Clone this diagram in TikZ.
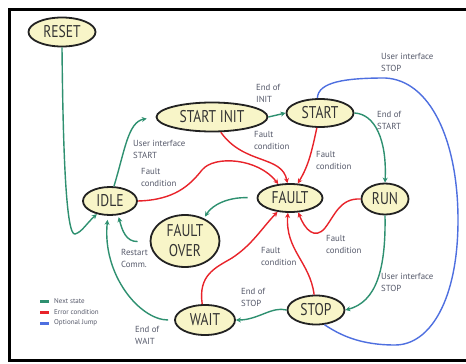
\documentclass[tikz,border=0pt]{standalone}
\usepackage{fontspec}
\usetikzlibrary{shapes.geometric,arrows.meta}
\newfontfamily\statefont[FakeStretch=0.8]{PT Sans}
\newfontfamily\lblfont{PT Sans}
\definecolor{gr}{HTML}{2E9070}
\definecolor{rd}{HTML}{E8232A}
\definecolor{bl}{HTML}{4E6FE0}
\definecolor{fillc}{HTML}{F8F5C8}
\definecolor{tg}{HTML}{55596A}
\definecolor{edgec}{HTML}{222222}
\begin{document}
\begin{tikzpicture}[x=1pt,y=-1pt,
 state/.style={ellipse,draw=edgec,line width=1.8pt,fill=fillc,inner sep=0pt,font=\statefont\fontsize{17}{20}\selectfont,text=black!80},
 lbl/.style={anchor=north west,inner sep=0pt,align=left,text=tg,font=\lblfont\fontsize{8.8}{12}\selectfont},
 leg/.style={anchor=west,inner sep=0pt,text=tg,font=\lblfont\fontsize{7}{8}\selectfont},
 nxt/.style={draw=gr,line width=1.4pt,-{Stealth[length=5pt,width=5pt]}},
 err/.style={draw=rd,line width=1.4pt,-{Stealth[length=5pt,width=5pt]}},
 opt/.style={draw=bl,line width=1.4pt}]
\useasboundingbox (0,0) rectangle (466,364);
\fill[white] (0,0) rectangle (466,364);
\draw[line width=3pt,black] (475,9) -- (9.5,9) -- (9.5,360) -- (475,360);

% states
\node[state,minimum width=67pt,minimum height=29pt] (RESET) at (62,32) {RESET};
\node[state,minimum width=111pt,minimum height=29pt] (SI) at (212,117) {START INIT};
\node[state,minimum width=67pt,minimum height=28pt] (START) at (320,113) {START};
\node[state,minimum width=54pt,minimum height=28pt] (IDLE) at (110,201) {IDLE};
\node[state,minimum width=65pt,minimum height=28pt] (FAULT) at (290,198) {FAULT};
\node[state,minimum width=47pt,minimum height=31pt] (RUN) at (385,199) {RUN};
\node[state,minimum width=69pt,minimum height=52pt,align=center] (FO) at (185,241) {FAULT\\OVER};
\node[state,minimum width=60pt,minimum height=30pt] (WAIT) at (205,320) {WAIT};
\node[state,minimum width=57pt,minimum height=29pt] (STOP) at (316,310) {STOP};

% green: next state
\draw[nxt] (RESET.south) .. controls (63,150) and (66,236) .. (75,234) .. controls (82,232) and (86,224) .. (IDLE.225);
\draw[nxt,shorten >=9pt] (IDLE.75) .. controls (125,150) and (128,122) .. (SI.west);
\draw[nxt] (SI.east) -- (START.west);
\draw[nxt] (START.east) .. controls (375,114) and (387,140) .. (RUN.north);
\draw[nxt] (RUN.south) .. controls (386,270) and (376,302) .. (STOP.east);
\draw[nxt] (STOP.west) .. controls (272,306) and (258,320) .. (WAIT.east);
\draw[nxt,shorten <=6pt,shorten >=4pt] (WAIT.west) .. controls (140,320) and (102,275) .. (IDLE.262);
\draw[nxt,shorten <=12pt,shorten >=2pt] (FO.west) .. controls (126,242) and (122,230) .. (IDLE.300);
\draw[nxt,shorten <=9pt,shorten >=2pt] (FAULT.west) .. controls (228,197) and (212,205) .. (FO.50);

% red: error condition
\draw[err] (SI.300) .. controls (244,165) and (282,155) .. (FAULT.100);
\draw[err] (START.258) .. controls (312,150) and (309,165) .. (FAULT.62);
\draw[err] (IDLE.east) .. controls (175,200) and (190,185) .. (202,170) .. controls (214,155) and (258,158) .. (FAULT.130);
\draw[err] (RUN.west) .. controls (340,198) and (335,215) .. (325,228) .. controls (315,240) and (305,230) .. (FAULT.300);
\draw[err] (STOP.97) .. controls (310,262) and (285,250) .. (FAULT.262);
\draw[err] (WAIT.100) .. controls (198,275) and (215,268) .. (232,258) .. controls (252,245) and (262,228) .. (FAULT.228);

% blue: optional jump
\draw[opt] (START.100) .. controls (318,82) and (345,78) .. (385,78) .. controls (430,80) and (458,140) .. (458,220) .. controls (458,300) and (430,345) .. (395,345) .. controls (360,345) and (340,335) .. (STOP.300);

% labels
\node[lbl] (l1) at (256,84) {End of\\INIT};
\node[lbl] (l2) at (381,53) {User interface\\STOP};
\node[lbl] (l3) at (377,111) {End of\\START};
\node[lbl] (l4) at (254,131) {Fault\\condition};
\node[lbl] (l5) at (316,151) {Fault\\condition};
\node[lbl] (l6) at (133,140) {User interface\\START};
\node[lbl] (l7) at (141,168) {Fault\\condition};
\node[lbl] (l8) at (121,249) {Restart\\Comm.};
\node[lbl] (l9) at (135,326) {End of\\WAIT};
\node[lbl] (l10) at (241,288) {End of\\STOP};
\node[lbl] (l11) at (261,247) {Fault\\condition};
\node[lbl] (l12) at (326,235) {Fault\\condition};
\node[lbl] (l13) at (381,273) {User interface\\STOP};

% legend
\draw[gr,line width=3pt] (40,301) -- (49,301);
\draw[rd,line width=3pt] (40,312) -- (49,312);
\draw[bl,line width=3pt] (40,323) -- (49,323);
\node[leg] (g1) at (54,301) {Next state};
\node[leg] (g2) at (54,312) {Error condition};
\node[leg] (g3) at (54,323) {Optional Jump};
\end{tikzpicture}
\end{document}
